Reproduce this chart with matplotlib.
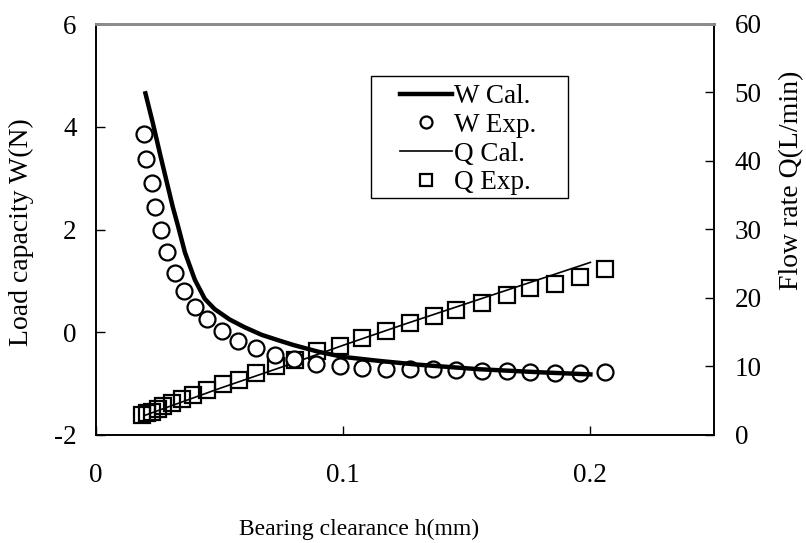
import matplotlib.pyplot as plt
from matplotlib.lines import Line2D
from matplotlib.patches import Rectangle

plt.rcParams['font.family'] = ['Liberation Serif', 'DejaVu Serif']
plt.rcParams['font.size'] = 19.5
plt.rcParams['axes.unicode_minus'] = False

# W calculated (N) vs clearance h (mm)
h_wcal = [0.020, 0.023, 0.026, 0.028, 0.031, 0.033, 0.036, 0.040, 0.044,
          0.048, 0.054, 0.060, 0.067, 0.074, 0.080, 0.090, 0.100, 0.115,
          0.130, 0.155, 0.180, 0.200]
w_cal = [4.65, 4.07, 3.45, 3.05, 2.45, 2.10, 1.55, 1.02, 0.65,
         0.45, 0.25, 0.10, -0.05, -0.16, -0.25, -0.38, -0.48, -0.56,
         -0.63, -0.72, -0.78, -0.82]

# W experimental
h_wexp = [0.0196, 0.0201, 0.0225, 0.0239, 0.0263, 0.0289, 0.032, 0.0356,
          0.040, 0.045, 0.0511, 0.0573, 0.0646, 0.0724, 0.0802, 0.089,
          0.0987, 0.1075, 0.1173, 0.127, 0.1365, 0.1456, 0.156, 0.1661,
          0.1756, 0.1857, 0.1958, 0.206]
w_exp = [3.86, 3.37, 2.90, 2.43, 1.99, 1.56, 1.16, 0.81, 0.50, 0.25, 0.02,
         -0.18, -0.31, -0.44, -0.53, -0.62, -0.66, -0.70, -0.72, -0.72,
         -0.72, -0.74, -0.75, -0.76, -0.78, -0.79, -0.80, -0.78]

# Q calculated (L/min)
h_qcal = [0.020, 0.050, 0.075, 0.100, 0.125, 0.150, 0.175, 0.200]
q_cal = [2.9, 6.8, 9.9, 13.1, 16.2, 19.2, 22.2, 25.2]

# Q experimental
h_qexp = [0.0185, 0.0205, 0.0225, 0.0252, 0.0272, 0.0306, 0.0347, 0.0394,
          0.0448, 0.0515, 0.0578, 0.0646, 0.0727, 0.0805, 0.0893, 0.0987,
          0.1075, 0.1173, 0.127, 0.1367, 0.1456, 0.156, 0.1661, 0.1756,
          0.1857, 0.1958, 0.206]
q_exp = [2.9, 3.2, 3.4, 3.75, 4.2, 4.7, 5.2, 5.8, 6.6, 7.45, 8.1, 9.0,
         10.0, 11.0, 12.2, 13.0, 14.1, 15.2, 16.3, 17.4, 18.3, 19.3, 20.4,
         21.4, 22.1, 23.0, 24.3]

fig = plt.figure(figsize=(8.06, 5.43), dpi=100)
ax1 = fig.add_axes([96 / 806, 1 - 435 / 543, 618 / 806, 411 / 543])
ax2 = ax1.twinx()
ax1.set_zorder(ax2.get_zorder() + 1)
ax1.patch.set_visible(False)

# Q on the right axis
ax2.plot(h_qexp, q_exp, 's', ms=11.5, mfc='none', mec='black', mew=1.6,
         zorder=2)
ax2.plot(h_qcal, q_cal, '-', color='black', lw=1.2, zorder=3)

# W on the left axis
ax1.plot(h_wexp, w_exp, 'o', ms=11.5, mfc='white', mec='black', mew=1.6,
         zorder=2)
ax1.plot(h_wcal, w_cal, '-', color='black', lw=3.2, zorder=3,
         solid_joinstyle='round')

ax1.set_xlim(0, 0.25)
ax1.set_ylim(-2, 6)
ax2.set_ylim(0, 60)
ax1.set_xticks([0, 0.1, 0.2])
ax1.set_xticklabels(['0', '0.1', '0.2'])
ax1.set_yticks([-2, 0, 2, 4, 6])
ax2.set_yticks([0, 10, 20, 30, 40, 50, 60])

ax1.tick_params(axis='x', direction='in', length=6.5, width=1, pad=20)
ax1.tick_params(axis='y', direction='in', length=6.5, width=1, pad=14)
ax2.tick_params(axis='y', direction='in', length=6.5, width=1, pad=15)

for ax in (ax1, ax2):
    for s in ax.spines.values():
        s.set_linewidth(1.2)
        s.set_color('black')
    ax.spines['top'].set_color('#8c8c8c')
    ax.spines['top'].set_linewidth(2)

ax1.set_xlabel('Bearing clearance h(mm)', fontsize=17)
ax1.xaxis.set_label_coords(0.426, -0.205)
ax1.set_ylabel('Load capacity W(N)', va='center', fontsize=20)
ax1.yaxis.set_label_coords(-0.12, 0.493)
ax2.set_ylabel('Flow rate Q(L/min)', va='center', fontsize=20)
ax2.yaxis.set_label_coords(1.126, 0.62)

# legend frame
ax1.add_patch(Rectangle((0.445, 0.577), 0.319, 0.296, transform=ax1.transAxes,
                        facecolor='white', edgecolor='black', lw=1.0, zorder=4.5))

handles = [
    Line2D([], [], color='black', lw=3.2),
    Line2D([], [], ls='none', marker='o', ms=11.5, mfc='white', mec='black', mew=1.6),
    Line2D([], [], color='black', lw=1.2),
    Line2D([], [], ls='none', marker='s', ms=11.5, mfc='none', mec='black', mew=1.6),
]
labels = ['W Cal.', 'W Exp.', 'Q Cal.', 'Q Exp.']
leg = ax1.legend(handles, labels, loc='upper left', bbox_to_anchor=(0.492, 0.854),
                 borderaxespad=0, frameon=False, handlelength=1.9,
                 handletextpad=0.1, labelspacing=0.14, markerscale=0.75,
                 borderpad=0, fontsize=19.5)

fig.savefig('out.png', dpi=100)
